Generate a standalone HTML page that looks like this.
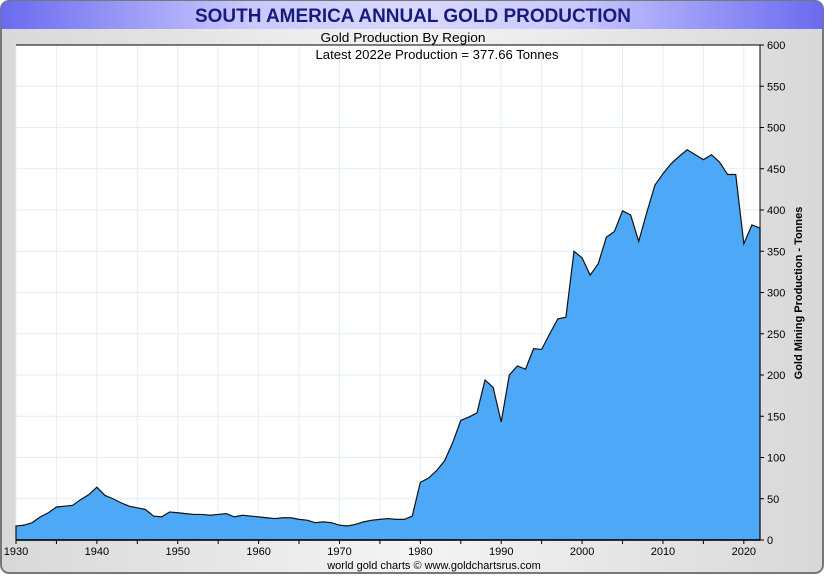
<!DOCTYPE html>
<html><head><meta charset="utf-8"><style>
body{margin:0;width:825px;height:575px;overflow:hidden;background:#fff;font-family:"Liberation Sans",sans-serif}
</style></head><body>
<svg id="chart" width="825" height="575" xmlns="http://www.w3.org/2000/svg">
<defs>
<linearGradient id="tb" x1="0" x2="1" y1="0" y2="0"><stop offset="0" stop-color="#6a6af0"/><stop offset="0.3" stop-color="#c8c8ff"/><stop offset="0.5" stop-color="#d8d8ff"/><stop offset="0.7" stop-color="#c8c8ff"/><stop offset="1" stop-color="#6a6af0"/></linearGradient>
<linearGradient id="bg" x1="0" x2="1" y1="0" y2="0"><stop offset="0" stop-color="#d8d8d8"/><stop offset="0.5" stop-color="#f4f4f4"/><stop offset="1" stop-color="#d8d8d8"/></linearGradient>
</defs>
<rect x="1" y="1" width="822" height="572" rx="8" fill="url(#bg)" stroke="#777" stroke-width="2"/>
<path d="M1,29 V9 a8,8 0 0 1 8,-8 H815 a8,8 0 0 1 8,8 V29 Z" fill="url(#tb)"/>
<text x="413" y="22" text-anchor="middle" font-size="19" font-weight="bold" fill="#1a1a7a" textLength="436" lengthAdjust="spacingAndGlyphs">SOUTH AMERICA ANNUAL GOLD PRODUCTION</text>
<text x="403" y="42" text-anchor="middle" font-size="13" fill="#000" textLength="165" lengthAdjust="spacingAndGlyphs">Gold Production By Region</text>
<rect x="16" y="45" width="744" height="495" fill="#fff"/>
<g id="grid"></g>
<path id="area" fill="#4da9f7" stroke="#111" stroke-width="1.2"/>
<g id="axes"></g>
<text x="437" y="59" text-anchor="middle" font-size="13" fill="#000" textLength="243" lengthAdjust="spacingAndGlyphs">Latest 2022e  Production = 377.66 Tonnes</text>
<text transform="translate(802,293) rotate(-90)" text-anchor="middle" font-size="11" font-weight="bold" fill="#000">Gold Mining Production - Tonnes</text>
<text x="434" y="569" text-anchor="middle" font-size="11" fill="#000">world gold charts © www.goldchartsrus.com</text>
</svg>
<script>
const years=[1930,1931,1932,1933,1934,1935,1936,1937,1938,1939,1940,1941,1942,1943,1944,1945,1946,1947,1948,1949,1950,1951,1952,1953,1954,1955,1956,1957,1958,1959,1960,1961,1962,1963,1964,1965,1966,1967,1968,1969,1970,1971,1972,1973,1974,1975,1976,1977,1978,1979,1980,1981,1982,1983,1984,1985,1986,1987,1988,1989,1990,1991,1992,1993,1994,1995,1996,1997,1998,1999,2000,2001,2002,2003,2004,2005,2006,2007,2008,2009,2010,2011,2012,2013,2014,2015,2016,2017,2018,2019,2020,2021,2022];
const production=[17,18,21,28,33,40,41,42,49,55,64,54,50,45,41,39,37,29,28,34,33,32,31,31,30,31,32,28,30,29,28,27,26,27,27,25,24,21,22,21,18,17,19,22,24,25,26,25,25,29,70,75,84,96,118,145,149,154,194,185,143,200,211,207,232,231,250,268,270,350,342,321,335,367,374,399,394,362,397,430,444,456,465,473,467,461,467,458,443,443,359,382,378];
const yTicks=[0,50,100,150,200,250,300,350,400,450,500,550,600];
const xTicks=[1930,1940,1950,1960,1970,1980,1990,2000,2010,2020];
const X0=16,X1=760,Y0=540,Y1=45;
const xs=y=>X0+(y-1930)/(2022-1930)*(X1-X0);
const ys=v=>Y0-v/600*(Y0-Y1);
const NS="http://www.w3.org/2000/svg";
const grid=document.getElementById('grid'),axes=document.getElementById('axes');
function mk(tag,attrs,parent){const e=document.createElementNS(NS,tag);for(const k in attrs)e.setAttribute(k,attrs[k]);parent.appendChild(e);return e;}
for(let y=1930;y<=2022;y+=5){const l=mk('line',{x1:xs(y),x2:xs(y),y1:Y1,y2:Y0,stroke:'#e2eef8','stroke-width':1},grid);


const t=mk('line',{x1:xs(y),x2:xs(y),y1:Y0,y2:Y0+4,stroke:'#000'},axes);

}
yTicks.forEach(v=>{const l=mk('line',{x1:X0,x2:X1,y1:ys(v),y2:ys(v),stroke:'#e2eef8'},grid);


const t=mk('line',{x1:X1,x2:X1+4,y1:ys(v),y2:ys(v),stroke:'#000'},axes);


const tx=mk('text',{x:X1+7,y:ys(v)+4,'font-size':11,fill:'#000'},axes);tx.textContent=v;

});
xTicks.forEach(y=>{const tx=mk('text',{x:xs(y),y:Y0+15,'font-size':11,'text-anchor':'middle',fill:'#000'},axes);tx.textContent=y;

});
let d='M'+xs(years[0])+','+Y0;
years.forEach((y,i)=>{d+=' L'+xs(y).toFixed(2)+','+ys(production[i]).toFixed(2);});
d+=' L'+xs(years[years.length-1])+','+Y0+' Z';
document.getElementById('area').setAttribute('d',d);
const b=mk('line',{x1:X0,x2:X1,y1:Y0,y2:Y0,stroke:'#000','stroke-width':1.5},axes);


const r=mk('line',{x1:X1,x2:X1,y1:Y1,y2:Y0,stroke:'#000','stroke-width':1},axes);


const tp=mk('line',{x1:X0,x2:X1,y1:Y1,y2:Y1,stroke:'#000','stroke-width':1},axes);


</script>
</body></html>
